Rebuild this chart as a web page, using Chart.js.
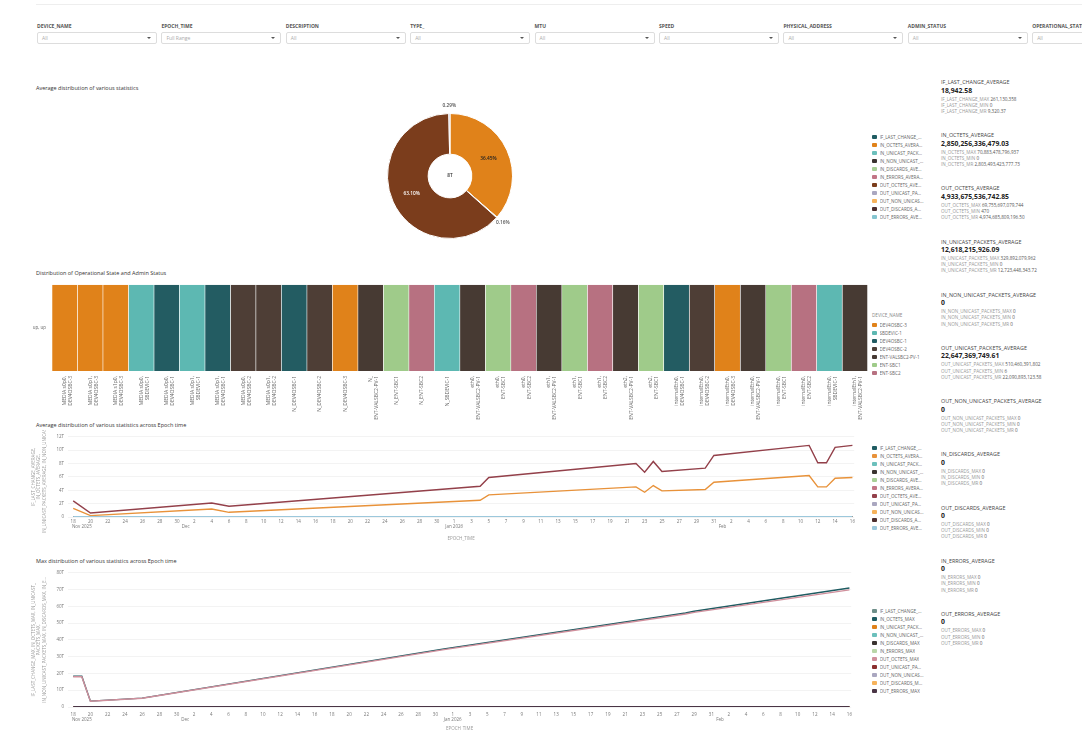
<!DOCTYPE html>
<html>
<head>
<meta charset="utf-8">
<title>Interface statistics</title>
<script src="https://cdn.jsdelivr.net/npm/chart.js@4.4.1/dist/chart.umd.min.js"></script>
<style>
  body { margin: 0; width: 1082px; height: 730px; overflow: hidden; background: #fff;
         font-family: 'Open Sans', sans-serif; color: #333; position: relative; }
  .abs { position: absolute; }
  .topline { left: 36px; right: 0; top: 4px; height: 1px; background: #eee; }
  .flt-lbl { top: 23px; font-size: 5px; font-weight: 700; color: #555; white-space: nowrap; }
  .flt-box { top: 32px; width: 120px; height: 12px; border: 1px solid #ddd; border-radius: 2px;
             box-sizing: border-box; font-size: 5px; line-height: 10px; padding-left: 4px; color: #aaa; }
  .flt-box::after { content: ''; position: absolute; right: 5px; top: 4px; border-left: 2px solid transparent;
                    border-right: 2px solid transparent; border-top: 2.5px solid #555; }
  .title { font-size: 5.5px; color: #333; white-space: nowrap; }
  .legend { left: 872px; }
  .legend .head { font-size: 4.6px; color: #888; height: 10px; line-height: 8px; }
  .legend .item { display: flex; align-items: center; height: 8px; }
  .legend .sw { width: 4.5px; height: 4.5px; border-radius: 1px; margin-right: 3px; flex: none; }
  .legend .lbl { font-size: 4.6px; color: #666; max-width: 44px; overflow: hidden;
                 text-overflow: ellipsis; white-space: nowrap; }
  .kpis { left: 941px; top: 79px; }
  .kpi { height: 53.2px; }
  .kpi .name { font-size: 5.4px; color: #444; line-height: 6px; white-space: nowrap; }
  .kpi .avg { font-size: 6.8px; font-weight: 700; color: #222; line-height: 10px; margin-top: 0.5px; }
  .kpi .sub { font-size: 4.6px; color: #999; line-height: 6.2px; white-space: nowrap; }
  .kpi .sub b { font-weight: 400; color: #555; }
</style>
</head>
<body>
<div class="abs topline"></div>
<div id="filters"></div>

<div class="abs title" style="left:36px;top:84px">Average distribution of various statistics</div>
<div class="abs" style="left:36px;top:95px;width:828px;height:162px"><canvas id="chart-pie"></canvas></div>
<div class="abs legend" id="legend-pie" style="top:133px"></div>

<div class="abs title" style="left:36px;top:269px">Distribution of Operational State and Admin Status</div>
<div class="abs" style="left:30px;top:276px;width:842px;height:145px"><canvas id="chart-state"></canvas></div>
<div class="abs legend" id="legend-state" style="top:311px"></div>

<div class="abs title" style="left:36px;top:421px">Average distribution of various statistics across Epoch time</div>
<div class="abs" style="left:30px;top:430px;width:827px;height:115px"><canvas id="chart-avg"></canvas></div>
<div class="abs legend" id="legend-avg" style="top:444px"></div>

<div class="abs title" style="left:36px;top:557px">Max distribution of various statistics across Epoch time</div>
<div class="abs" style="left:30px;top:566px;width:827px;height:169px"><canvas id="chart-max"></canvas></div>
<div class="abs legend" id="legend-max" style="top:607px"></div>

<div class="abs kpis" id="kpis"></div>

<script>
// ---- filters ----
const FILTERS = ['DEVICE_NAME', 'EPOCH_TIME', 'DESCRIPTION', 'TYPE_', 'MTU', 'SPEED',
  'PHYSICAL_ADDRESS', 'ADMIN_STATUS', 'OPERATIONAL_STATUS'];
const FILTER_DEFAULTS = ['All', 'Full Range', 'All', 'All', 'All', 'All', 'All', 'All', 'All'];

// ---- metrics (legend order) ----
const METRICS = ['IF_LAST_CHANGE', 'IN_OCTETS', 'IN_UNICAST_PACKETS', 'IN_NON_UNICAST_PACKETS',
  'IN_DISCARDS', 'IN_ERRORS', 'OUT_OCTETS', 'OUT_UNICAST_PACKETS', 'OUT_NON_UNICAST_PACKETS',
  'OUT_DISCARDS', 'OUT_ERRORS'];
const AVERAGES = [18942.58, 2850256336479.03, 12618215926.09, 0, 0, 0,
  4933675536742.85, 22647369749.61, 0, 0, 0];
const MAXIMA = ['261,130,358', '70,883,478,796,937', '329,892,079,962', '0', '0', '0',
  '69,755,697,079,744', '510,460,391,802', '0', '0', '0'];
const MINIMA = ['0', '0', '0', '0', '0', '0', '470', '6', '0', '0', '0'];
const MR = ['9,320.37', '2,803,493,423,777.73', '12,723,448,343.72', '0', '0', '0',
  '4,974,685,809,196.50', '22,090,893,123.58', '0', '0', '0'];
const KPI_ORDER = ['IF_LAST_CHANGE', 'IN_OCTETS', 'OUT_OCTETS', 'IN_UNICAST_PACKETS',
  'IN_NON_UNICAST_PACKETS', 'OUT_UNICAST_PACKETS', 'OUT_NON_UNICAST_PACKETS',
  'IN_DISCARDS', 'OUT_DISCARDS', 'IN_ERRORS', 'OUT_ERRORS'];

const PIE_COLORS = ['#1f5c62', '#e0821a', '#6cc0bc', '#3a3330', '#a8cf96', '#c27586',
  '#7b3d1c', '#aaa7c0', '#f6b35c', '#4c2e2e', '#86c5d0'];
const AVG_COLORS = ['#1f5c62', '#e8923a', '#6cc0bc', '#3a3330', '#a8cf96', '#c27586',
  '#93404a', '#aaa7c0', '#f6b35c', '#4c2e2e', '#9cc8dc'];
const MAX_COLORS = ['#6e8f8a', '#1f5c62', '#e0821a', '#6cc0bc', '#3a3330', '#b9d6a8',
  '#d08f9c', '#8b2f2f', '#aaa7c0', '#f6b35c', '#4a3545'];

// ---- operational / admin state per interface ----
const STATE_LABEL = 'up, up';
const DEVICES = ['DEV4OSBC-3', 'SBDEVIC-1', 'DEV4OSBC-1', 'DEV4OSBC-2', 'ENT-VALSBC2-PV-1', 'ENT-SBC1', 'ENT-SBC2'];
const DEVICE_COLORS = ['#e0821a', '#5db8b2', '#235c62', '#4e3e36', '#473a33', '#9fcb8a', '#b77181'];
const IFACES = [
  ['MEDIA s0p0,', 'DEV4OSBC-3'], ['MEDIA s0p1,', 'DEV4OSBC-3'], ['MEDIA s1p0,', 'DEV4OSBC-3'],
  ['MEDIA s0p0,', 'SBDEVIC-1'], ['MEDIA s0p0,', 'DEV4OSBC-1'], ['MEDIA s0p1,', 'SBDEVIC-1'],
  ['MEDIA s0p1,', 'DEV4OSBC-1'], ['MEDIA s0p0,', 'DEV4OSBC-2'], ['MEDIA s0p1,', 'DEV4OSBC-2'],
  ['N_DEV4OSBC-1'], ['N_DEV4OSBC-2'], ['N_DEV4OSBC-3'], ['N_', 'ENT-VALSBC2-PV-1'],
  ['N_ENT-SBC1'], ['N_ENT-SBC2'], ['N_SBDEVIC-1'],
  ['eth0,', 'ENT-VALSBC2-PV-1'], ['eth0,', 'ENT-SBC1'], ['eth0,', 'ENT-SBC2'],
  ['eth1,', 'ENT-VALSBC2-PV-1'], ['eth1,', 'ENT-SBC1'], ['eth1,', 'ENT-SBC2'],
  ['eth2,', 'ENT-VALSBC2-PV-1'], ['eth2,', 'ENT-SBC1'],
  ['internalEth0,', 'DEV4OSBC-1'], ['internalEth0,', 'DEV4OSBC-2'], ['internalEth0,', 'DEV4OSBC-3'],
  ['internalEth0,', 'ENT-VALSBC2-PV-1'], ['internalEth0,', 'ENT-SBC1'], ['internalEth0,', 'ENT-SBC2'],
  ['internalEth0,', 'SBDEVIC-1'], ['internalEth1,', 'ENT-VALSBC2-PV-1'],
];
const IFACE_DEVICE = IFACES.map((l) => l[l.length - 1].replace(/^N_/, ''));

// ---- time axis: day 0 = 18 Nov 2025 ----
const DAY_TICKS = ['18', '20', '22', '24', '26', '28', '30',
  '2', '4', '6', '8', '10', '12', '14', '16', '18', '20', '22', '24', '26', '28', '30',
  '1', '3', '5', '7', '9', '11', '13', '15', '17', '19', '21', '23', '25', '27', '29', '31',
  '2', '4', '6', '8', '10', '12', '14', '16'];
const MONTH_TICKS = [[1, 'Nov 2025'], [13, 'Dec'], [44, 'Jan 2026'], [75, 'Feb']];

// averages over time, in trillions
const AVG_DAYS = [0, 2, 16, 18, 47, 48, 65, 66, 67, 68, 73, 74, 85, 86, 87, 88, 90];
const IN_OCTETS_AVG = [1.3, 0.2, 1.2, 0.7, 2.5, 3.3, 4.5, 3.7, 4.7, 3.9, 4.1, 5.2, 6.2, 4.5, 4.5, 5.8, 5.9];
const OUT_OCTETS_AVG = [2.4, 0.6, 2.1, 1.6, 4.6, 5.9, 8.0, 6.7, 8.3, 6.8, 7.3, 9.2, 10.7, 8.1, 8.1, 10.4, 10.7];
const FLAT_AVG = [0, 0, 0, 0, 0, 0, 0, 0, 0, 0, 0, 0, 0, 0, 0, 0, 0];

// maxima over time, in trillions
const MAX_DAYS = [0, 1, 2, 8, 43, 71, 72, 90];
const IN_OCTETS_MAX = [18.3, 18.3, 3.5, 5.3, 34.6, 56.0, 57.0, 70.9];
const OUT_OCTETS_MAX = [18.0, 18.0, 3.4, 5.2, 34.2, 55.4, 56.4, 69.8];
const FLAT_MAX = [0, 0, 0, 0, 0, 0, 0, 0];

// ---- helpers ----
function el(tag, text, className) {
  const e = document.createElement(tag);
  if (text !== undefined) e.textContent = text;
  if (className) e.className = className;
  return e;
}
const money = (n) => (n === 0 ? '0' : n.toLocaleString('en-US', { minimumFractionDigits: 2, maximumFractionDigits: 2 }));
const trillions = (v) => (v === 0 ? '0' : `${v}T`);

function legend(id, names, colors, title) {
  const box = document.getElementById(id);
  if (title) box.append(el('div', title, 'head'));
  names.forEach((n, i) => {
    const row = el('div', undefined, 'item');
    const sw = el('span', undefined, 'sw');
    sw.style.background = colors[i];
    row.append(sw, el('span', n, 'lbl'));
    box.append(row);
  });
}

// ---- filter bar ----
const filters = document.getElementById('filters');
FILTERS.forEach((f, i) => {
  const left = 37 + i * 124.4;
  const lbl = el('div', f, 'abs flt-lbl');
  lbl.style.left = `${left}px`;
  const sel = el('div', FILTER_DEFAULTS[i], 'abs flt-box');
  sel.style.left = `${left}px`;
  filters.append(lbl, sel);
});

// ---- KPI column ----
const kpis = document.getElementById('kpis');
KPI_ORDER.forEach((m) => {
  const i = METRICS.indexOf(m);
  const k = el('div', undefined, 'kpi');
  k.append(el('div', `${m}_AVERAGE`, 'name'), el('div', money(AVERAGES[i]), 'avg'));
  [['MAX', MAXIMA[i]], ['MIN', MINIMA[i]], ['MR', MR[i]]].forEach(([s, v]) => {
    const row = el('div', `${m}_${s} `, 'sub');
    row.append(el('b', v));
    k.append(row);
  });
  kpis.append(k);
});

// ---- Chart.js ----
Chart.defaults.font.family = "'Open Sans', sans-serif";
Chart.defaults.font.size = 4.5;
Chart.defaults.color = '#777';
Chart.defaults.animation = false;
Chart.defaults.maintainAspectRatio = false;
Chart.defaults.plugins.legend.display = false;
Chart.defaults.plugins.tooltip.enabled = false;

function luminance(hex) {
  const n = parseInt(hex.slice(1), 16);
  return (0.299 * (n >> 16) + 0.587 * ((n >> 8) & 255) + 0.114 * (n & 255)) / 255;
}

// percentage labels on the slices plus the total in the hole
const sliceLabels = {
  id: 'sliceLabels',
  afterDatasetsDraw(chart) {
    const { ctx } = chart;
    const ds = chart.data.datasets[0];
    const arcs = chart.getDatasetMeta(0).data;
    const total = ds.data.reduce((a, b) => a + b, 0);
    ctx.save();
    ctx.textAlign = 'center';
    ctx.textBaseline = 'middle';
    ctx.font = "600 4.8px 'Open Sans'";
    arcs.forEach((arc, i) => {
      const share = ds.data[i] / total;
      if (share < 0.001) return;
      const mid = (arc.startAngle + arc.endAngle) / 2;
      const inside = share > 0.05;
      const r = inside ? (arc.innerRadius + arc.outerRadius) / 2 : arc.outerRadius + 8;
      ctx.fillStyle = inside ? (luminance(ds.backgroundColor[i]) > 0.45 ? '#222' : '#fff') : '#555';
      ctx.fillText(`${(share * 100).toFixed(2)}%`, arc.x + Math.cos(mid) * r, arc.y + Math.sin(mid) * r);
    });
    ctx.fillStyle = '#333';
    ctx.fillText(`${Math.round(total / 1e12)}T`, arcs[0].x, arcs[0].y);
    ctx.restore();
  },
};

new Chart(document.getElementById('chart-pie'), {
  type: 'doughnut',
  data: {
    labels: METRICS.map((m) => `${m}_AVERAGE`),
    datasets: [{ data: AVERAGES, backgroundColor: PIE_COLORS, borderColor: '#fff', borderWidth: 1 }],
  },
  options: { cutout: '35%', layout: { padding: { top: 18, bottom: 18 } } },
  plugins: [sliceLabels],
});
legend('legend-pie', METRICS.map((m) => `${m}_AVERAGE`), PIE_COLORS);

// one stacked dataset per device, each interface is one full-height bar
new Chart(document.getElementById('chart-state'), {
  type: 'bar',
  data: {
    labels: IFACES,
    datasets: DEVICES.map((d, i) => ({
      label: d,
      data: IFACE_DEVICE.map((dev) => (dev === d ? 1 : null)),
      backgroundColor: DEVICE_COLORS[i],
      borderColor: '#fff',
      borderWidth: { left: 0.6, right: 0.6, top: 0, bottom: 0 },
      borderSkipped: false,
      barPercentage: 1,
      categoryPercentage: 1,
    })),
  },
  options: {
    layout: { autoPadding: false, padding: { top: 4, right: 4 } },
    scales: {
      x: {
        stacked: true, grid: { display: false, drawTicks: false }, border: { display: false },
        ticks: { autoSkip: false, minRotation: 90, maxRotation: 90, padding: 5, color: '#666', font: { size: 5 } },
        afterFit: (s) => { s.height = 50; },
      },
      y: {
        stacked: true, min: 0, max: 1, grid: { display: false, drawTicks: false }, border: { display: false },
        afterBuildTicks: (s) => { s.ticks = [{ value: 0.5 }]; },
        ticks: { callback: () => STATE_LABEL, color: '#666', padding: 6 },
        afterFit: (s) => { s.width = 22; },
      },
    },
  },
});
legend('legend-state', DEVICES, DEVICE_COLORS, 'DEVICE_NAME');

// tick labels for the day axis, month names on a second line
const tickText = new Map(DAY_TICKS.map((t, i) => [i * 2, [t]]));
for (const [day, month] of MONTH_TICKS) tickText.set(day, [tickText.get(day)?.[0] ?? '', month]);

function timeChart(id, days, series, colors, yMax, yStep, yTitle, tickPad) {
  new Chart(document.getElementById(id), {
    type: 'line',
    data: {
      datasets: series.map((vals, i) => ({
        data: vals.map((v, j) => ({ x: days[j], y: v })),
        borderColor: colors[i],
        backgroundColor: colors[i],
        borderWidth: i === series.length - 1 ? 2.2 : 1.4,
        pointRadius: 0,
        order: series.length - i,
      })),
    },
    options: {
      layout: { autoPadding: false, padding: { top: 6 } },
      scales: {
        x: {
          type: 'linear', min: -0.6, max: 90.2,
          grid: { display: false, drawTicks: false }, border: { display: false },
          afterBuildTicks: (s) => { s.ticks = [...tickText.keys()].sort((a, b) => a - b).map((v) => ({ value: v })); },
          ticks: { autoSkip: false, maxRotation: 0, padding: tickPad, callback: (v) => tickText.get(v) ?? '' },
          title: { display: true, text: 'EPOCH_TIME', color: '#999', padding: { top: 1 } },
          afterFit: (s) => { s.height = 28; },
        },
        y: {
          min: 0, max: yMax,
          grid: { color: '#eeeeee', lineWidth: 0.7, drawTicks: false }, border: { display: false },
          ticks: { stepSize: yStep, padding: 4, callback: trillions },
          title: { display: true, text: yTitle, color: '#999', padding: 1 },
          afterFit: (s) => { s.width = 38; },
        },
      },
    },
  });
}

timeChart('chart-avg', AVG_DAYS,
  [FLAT_AVG, IN_OCTETS_AVG, FLAT_AVG, FLAT_AVG, FLAT_AVG, FLAT_AVG, OUT_OCTETS_AVG, FLAT_AVG, FLAT_AVG, FLAT_AVG, FLAT_AVG],
  AVG_COLORS, 12, 2,
  ['IF_LAST_CHANGE_AVERAGE,', 'IN_OCTETS_AVERAGE,', 'IN_UNICAST_PACKETS_AVERAGE, IN_NON_UNICAST_...'], 2);
legend('legend-avg', METRICS.map((m) => `${m}_AVERAGE`), AVG_COLORS);

timeChart('chart-max', MAX_DAYS,
  [FLAT_MAX, IN_OCTETS_MAX, FLAT_MAX, FLAT_MAX, FLAT_MAX, FLAT_MAX, OUT_OCTETS_MAX, FLAT_MAX, FLAT_MAX, FLAT_MAX, FLAT_MAX],
  MAX_COLORS, 80, 10,
  ['IF_LAST_CHANGE_MAX, IN_OCTETS_MAX, IN_UNICAST_', 'PACKETS_MAX,', 'IN_NON_UNICAST_PACKETS_MAX, IN_DISCARDS_MAX, IN_E...'], 5);
legend('legend-max', METRICS.map((m) => `${m}_MAX`), MAX_COLORS);
</script>
</body>
</html>
